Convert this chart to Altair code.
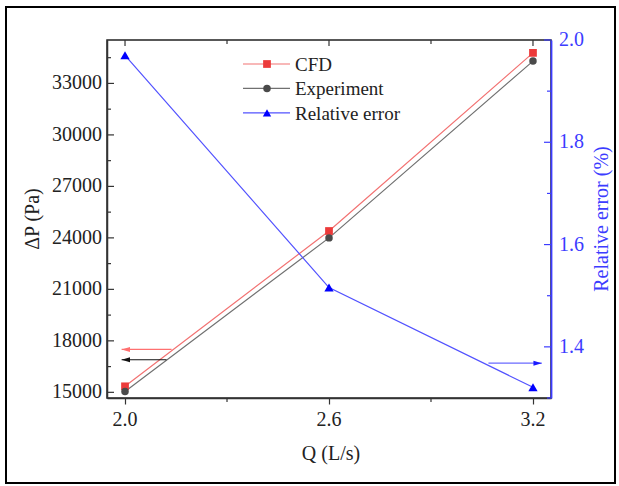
import altair as alt
import pandas as pd

# Flow rate (L/s) and pressure drop (Pa)
q = [2.0, 2.6, 3.2]
dp_cfd = [15350, 24400, 34780]
dp_exp = [15050, 24000, 34300]
rel_err = [1.97, 1.516, 1.321]

# Axis tick values
x_major = [2.0, 2.6, 3.2]
x_minor = [2.3, 2.9]
left_major = [15000, 18000, 21000, 24000, 27000, 30000, 33000]
left_minor = [16500, 19500, 22500, 25500, 28500, 31500, 34500]
right_major = [1.4, 1.6, 1.8, 2.0]
right_minor = [1.3, 1.5, 1.7, 1.9]

# Arrows pointing to the axis each series belongs to
left_arrow_y = [17500, 16900]
left_arrow_tail = [2.137, 2.122]
left_arrow_tip = [1.99, 1.99]
right_arrow_y = [1.368]
right_arrow_tail = [3.069]
right_arrow_tip = [3.226]

legend_labels = ["CFD", "Experiment", "Relative error"]
x_title = "Q (L/s)"
left_title = "ΔP (Pa)"
right_title = "Relative error (%)"

W, H = 444, 358
FONT = "Liberation Serif"
RED, RED_LINE = "#ec3a3a", "#f27272"
GRAY, GRAY_LINE = "#4a4a4a", "#707070"
BLUE, BLUE_LINE = "#0000ff", "#5252ff"
AXIS_BLUE = "#3c3cff"
DARK = "#222222"

xs = alt.Scale(domain=[1.947, 3.253], nice=False, zero=False)
yl = alt.Scale(domain=[14670, 35530], nice=False, zero=False)
yr = alt.Scale(domain=[1.30, 2.0], nice=False, zero=False)

df = pd.DataFrame({"q": q, "cfd": dp_cfd, "exp": dp_exp, "err": rel_err})

# Axes carry only the frame lines and the outward x ticks; text is drawn as text marks
x_axis = alt.Axis(values=x_major, labels=False, title="", grid=False,
                  tickSize=6, tickColor="#333333", tickWidth=1.2,
                  domainColor="#333333", domainWidth=1.5)
left_axis = alt.Axis(values=left_major, labels=False, title="", grid=False,
                     ticks=False, tickSize=0, domainColor="#333333", domainWidth=1.5)
right_axis = alt.Axis(orient="right", values=right_major, labels=False, title="", grid=False,
                      ticks=False, tickSize=0, domainColor=AXIS_BLUE, domainWidth=1.8)


def xq(field):
    return alt.X(field, type="quantitative", scale=xs, axis=x_axis)


def yL(field):
    return alt.Y(field, type="quantitative", scale=yl, axis=left_axis)


def yR(field):
    return alt.Y(field, type="quantitative", scale=yr, axis=right_axis)


base = alt.Chart(df)

cfd_line = base.mark_line(color=RED_LINE, strokeWidth=1.2).encode(x=xq("q"), y=yL("cfd"))
exp_line = base.mark_line(color=GRAY_LINE, strokeWidth=1.2).encode(x=xq("q"), y=yL("exp"))
cfd_pts = base.mark_point(shape="square", filled=True, opacity=1, color=RED, size=60).encode(
    x=xq("q"), y=yL("cfd"))
exp_pts = base.mark_point(shape="circle", filled=True, opacity=1, color=GRAY, size=56).encode(
    x=xq("q"), y=yL("exp"))


# Tick marks drawn inside the frame
def y_ticks(values, ychan, start, end, color):
    return alt.Chart(pd.DataFrame({"v": values})).mark_rule(color=color, strokeWidth=1.2).encode(
        y=ychan("v"), x=alt.value(start), x2=alt.value(end))


def x_ticks(values, start, end, color):
    return alt.Chart(pd.DataFrame({"v": values})).mark_rule(color=color, strokeWidth=1.2).encode(
        x=xq("v"), y=alt.value(start), y2=alt.value(end))


lt_major = y_ticks(left_major, yL, 0, 7, "#333333")
lt_minor = y_ticks(left_minor, yL, 0, 4, "#333333")
top_major = x_ticks(x_major, 0, 6, "#333333")
top_minor = x_ticks(x_minor, 0, 4, "#333333")
bot_minor = x_ticks(x_minor, H, H + 4, "#333333")
rt_major = y_ticks(right_major, yR, W - 7, W, AXIS_BLUE)
rt_minor = y_ticks(right_minor, yR, W - 4, W, AXIS_BLUE)

# Tick labels
lab_kw = dict(font=FONT, fontSize=20)
left_labels = alt.Chart(pd.DataFrame({"v": left_major, "t": [f"{v:d}" for v in left_major]})).mark_text(
    align="right", baseline="middle", color=DARK, **lab_kw).encode(
    y=yL("v"), x=alt.value(-5), text="t:N")
x_labels = alt.Chart(pd.DataFrame({"v": x_major, "t": [f"{v:.1f}" for v in x_major]})).mark_text(
    align="center", baseline="middle", color=DARK, **lab_kw).encode(
    x=xq("v"), y=alt.value(H + 22), text="t:N")
right_labels = alt.Chart(pd.DataFrame({"v": right_major, "t": [f"{v:.1f}" for v in right_major]})).mark_text(
    align="left", baseline="middle", color=AXIS_BLUE, **lab_kw).encode(
    y=yR("v"), x=alt.value(W + 8), text="t:N")

# Axis titles
one = pd.DataFrame({"k": [0]})
title_kw = dict(font=FONT, fontSize=20, align="center", baseline="middle")
x_title_mark = alt.Chart(one).mark_text(text=x_title, color=DARK, **title_kw).encode(
    x=alt.value(224), y=alt.value(H + 56))
left_title_mark = alt.Chart(one).mark_text(text=left_title, color=DARK, angle=270, **title_kw).encode(
    x=alt.value(-74), y=alt.value(H / 2))
right_title_mark = alt.Chart(one).mark_text(text=right_title, color=AXIS_BLUE, angle=270, **title_kw).encode(
    x=alt.value(W + 51), y=alt.value(H / 2))

arrow_head_left = "M0,0 L2,-0.6 L2,0.6 Z"
arrow_head_right = "M0,0 L-2,-0.6 L-2,0.6 Z"

adf = pd.DataFrame({"y": left_arrow_y, "tail": left_arrow_tail, "tip": left_arrow_tip,
                    "c": ["red", "black"]})
left_arrow_lines = alt.Chart(adf).mark_rule(strokeWidth=1.2).encode(
    x=xq("tip"), x2="tail:Q", y=yL("y"),
    color=alt.Color("c:N", scale=alt.Scale(domain=["red", "black"], range=["#ff7070", "#111111"]), legend=None))
left_arrow_heads = alt.Chart(adf).mark_point(shape=arrow_head_left, filled=True, opacity=1, size=70).encode(
    x=xq("tip"), y=yL("y"),
    color=alt.Color("c2:N", scale=alt.Scale(domain=["red", "black"], range=["#ff1a1a", "#111111"]), legend=None)
).transform_calculate(c2="datum.c")

rdf = pd.DataFrame({"y": right_arrow_y, "tail": right_arrow_tail, "tip": right_arrow_tip})
right_arrow_line = alt.Chart(rdf).mark_rule(strokeWidth=1.2, color="#6a6aff").encode(
    x=xq("tail"), x2="tip:Q", y=yR("y"))
right_arrow_head = alt.Chart(rdf).mark_point(shape=arrow_head_right, filled=True, opacity=1,
                                             size=70, color="#1a1aff").encode(
    x=xq("tip"), y=yR("y"))

err_line = base.mark_line(color=BLUE_LINE, strokeWidth=1.2).encode(x=xq("q"), y=yR("err"))
err_pts = base.mark_point(shape="triangle-up", filled=True, opacity=1, color=BLUE, size=86).encode(
    x=xq("q"), y=yR("err"))

# Legend block inside the plot
legend_layers = []
legend_styles = [(RED_LINE, RED, "square", 60), (GRAY_LINE, GRAY, "circle", 56),
                 (BLUE_LINE, BLUE, "triangle-up", 70)]
for i, (label, (lc, mc, shp, sz)) in enumerate(zip(legend_labels, legend_styles)):
    ry = 24 + i * 24.4
    legend_layers.append(alt.Chart(one).mark_rule(color=lc, strokeWidth=1.2).encode(
        x=alt.value(136), x2=alt.value(183), y=alt.value(ry)))
    legend_layers.append(alt.Chart(one).mark_point(shape=shp, filled=True, opacity=1, color=mc, size=sz).encode(
        x=alt.value(160), y=alt.value(ry)))
    legend_layers.append(alt.Chart(one).mark_text(
        text=label, font=FONT, fontSize=19, color=DARK, align="left", baseline="middle").encode(
        x=alt.value(188), y=alt.value(ry + 1)))

frame = alt.Chart(one).mark_rect(fill="transparent", stroke="#000000", strokeWidth=2).encode(
    x=alt.value(-101), x2=alt.value(508), y=alt.value(-33), y2=alt.value(443))

left = alt.layer(
    cfd_line, exp_line, lt_major, lt_minor, top_major, top_minor, bot_minor,
    left_arrow_lines, left_arrow_heads, cfd_pts, exp_pts, frame,
    left_labels, x_labels, x_title_mark, left_title_mark, *legend_layers)
right = alt.layer(err_line, rt_major, rt_minor, right_arrow_line, right_arrow_head, err_pts,
                  right_labels, right_title_mark)

chart = alt.layer(left, right).resolve_scale(y="independent", color="independent").properties(
    width=W, height=H,
    autosize=alt.AutoSizeParams(type="none"),
    padding={"left": 107, "top": 40, "right": 619 - 107 - W, "bottom": 486 - 40 - H},
    background="white",
).configure_view(stroke="#222222", strokeWidth=1.5)

chart.save("out.html", embed_options={"renderer": "svg", "actions": False})
